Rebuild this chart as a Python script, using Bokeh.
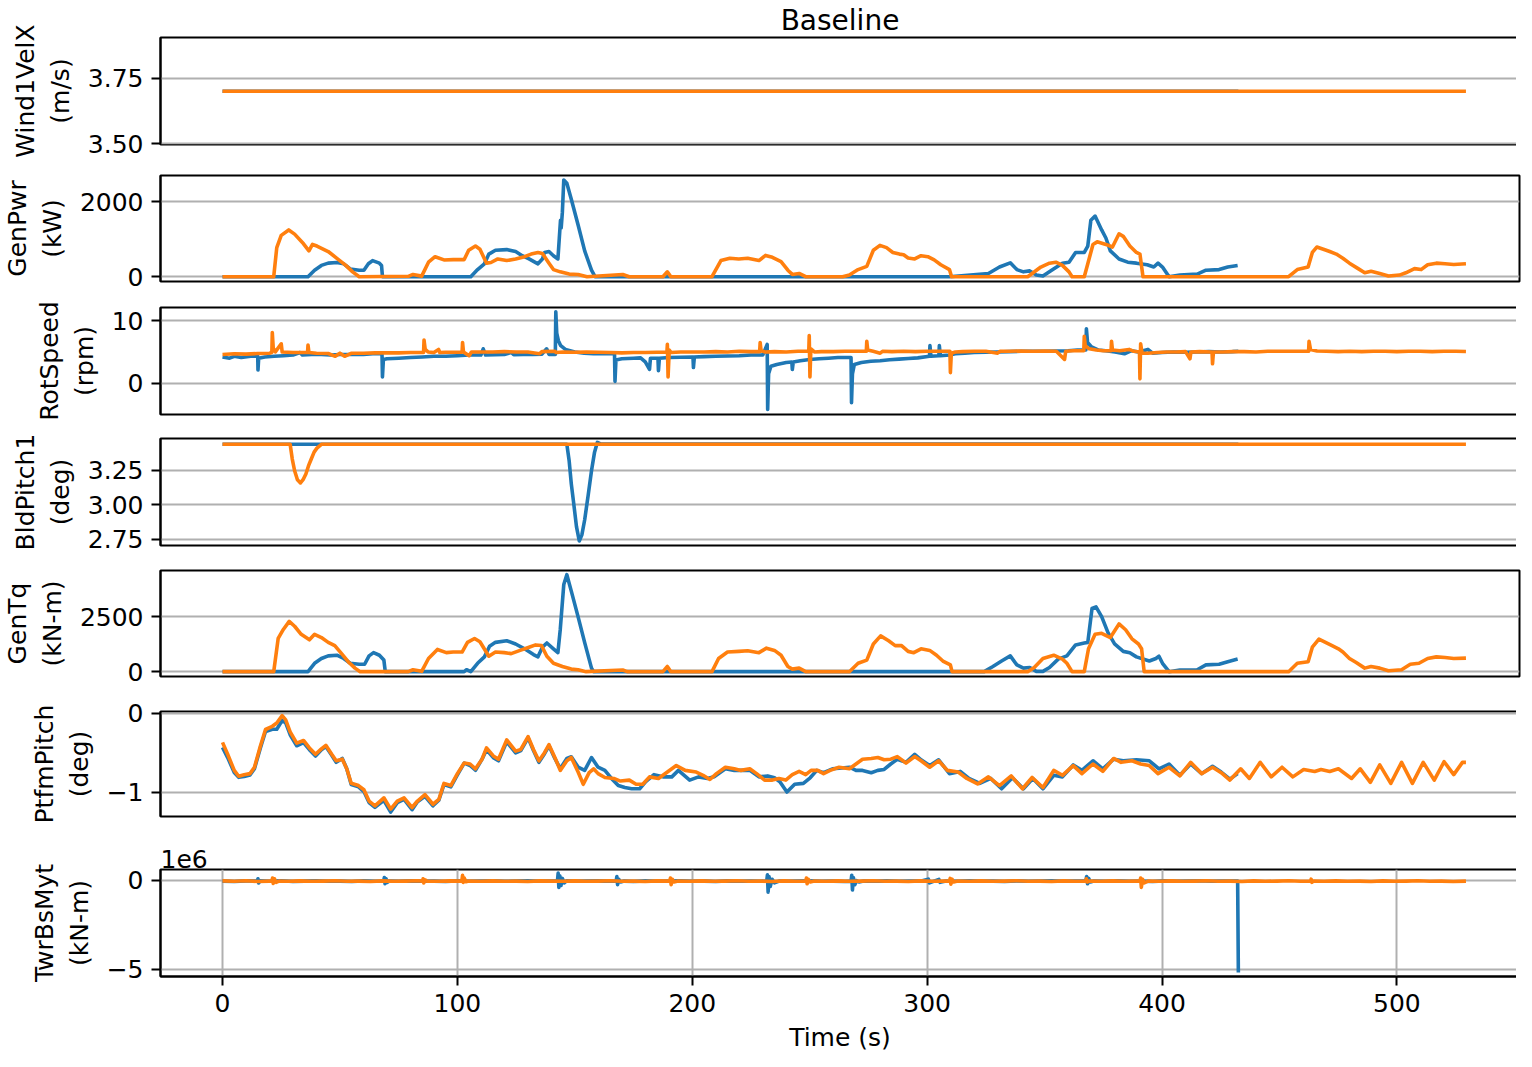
from bokeh.plotting import figure
from bokeh.layouts import column
from bokeh.models import Range1d, FixedTicker, CustomJSTickFormatter
from bokeh.embed import file_html
from bokeh.resources import INLINE

BLUE = "#1f77b4"
ORANGE = "#ff7f0e"
FONT = "DejaVu Sans"

TITLE = "Baseline"
X_LABEL = "Time (s)"
TIME_TICKS = [0, 100, 200, 300, 400, 500]

# ---- Wind1VelX (m/s) ----
WIND_BLUE = [(0, 3.7), (432.5, 3.7)]
WIND_ORANGE = [(0, 3.7), (529.4, 3.7)]

# ---- GenPwr (kW) ----
GENPWR_BLUE = [(0, 0), (36.4, 0), (39.2, 172), (42.1, 300), (45.0, 360), (48.7, 377), (51.6, 343), (54.4, 206),
               (58.2, 172), (60.2, 172), (62.1, 343), (63.9, 429), (66.8, 360), (67.7, 300), (68.1, 0), (105.7, 0),
               (108.6, 189), (111.5, 343), (113.4, 601), (116.2, 704), (121.0, 721), (124.8, 669), (127.6, 558),
               (130.5, 472), (134.3, 343), (136.2, 472), (137.1, 644), (139.0, 669), (140.9, 558), (142.8, 472),
               (143.4, 1030), (143.9, 1500), (144.2, 1300), (144.7, 1716), (145.3, 2574), (146.6, 2488), (148.5, 2059),
               (151.4, 1373), (154.2, 686), (157.1, 172), (158.6, 0), (309.5, 0), (326.1, 86), (330.8, 257),
               (335.4, 369), (338.2, 189), (341.0, 129), (343.7, 154), (346.5, 43), (349.3, 17), (353.0, 172),
               (357.6, 360), (360.4, 386), (363.2, 644), (366.9, 644), (368.4, 815), (369.7, 1502), (371.5, 1613),
               (374.3, 1244), (376.1, 1030), (378.0, 686), (381.7, 472), (385.4, 386), (389.1, 360), (393.7, 317),
               (396.5, 257), (398.3, 360), (400.2, 257), (403.0, 0), (407.6, 43), (415.0, 69), (418.7, 172),
               (424.3, 189), (428.0, 257), (432.2, 300)]
GENPWR_ORANGE = [(0, 0), (21.8, 0), (23.1, 772), (25.0, 1098), (28.2, 1244), (30.7, 1133), (34.5, 875), (36.8, 686),
                 (38.3, 858), (40.2, 815), (45.0, 669), (48.7, 489), (52.5, 300), (55.4, 129), (58.2, 0), (79.1, 10),
                 (81.1, 60), (84.8, 15), (87.7, 386), (90.5, 532), (94.3, 446), (98.2, 455), (102.9, 455),
                 (104.8, 704), (107.7, 815), (109.6, 729), (112.4, 360), (114.3, 377), (117.2, 472), (121.0, 429),
                 (124.8, 472), (128.6, 532), (131.4, 601), (134.3, 644), (136.2, 618), (139.0, 360), (140.9, 189),
                 (143.8, 129), (147.6, 69), (151.4, 60), (155.2, 0), (170.4, 60), (173.2, 0), (187.5, 0),
                 (189.4, 129), (190.9, 0), (208.4, 0), (212.2, 429), (216.0, 489), (219.8, 472), (223.6, 489),
                 (228.4, 429), (231.2, 566), (234.1, 515), (237.8, 403), (240.7, 172), (242.6, 60), (245.5, 86),
                 (248.3, 0), (264.0, 0), (266.9, 43), (270.6, 189), (274.3, 275), (277.1, 704), (279.9, 832),
                 (282.7, 772), (285.4, 644), (288.2, 601), (290.0, 583), (291.9, 497), (294.7, 472), (297.4, 558),
                 (300.3, 532), (303.0, 446), (305.8, 317), (309.5, 189), (310.4, 0), (342.8, 0), (344.7, 86),
                 (348.4, 257), (352.1, 360), (354.8, 386), (357.6, 300), (360.4, 129), (361.7, 0), (366.9, 0),
                 (368.4, 343), (370.6, 858), (372.4, 927), (376.1, 858), (378.9, 789), (381.7, 1141), (383.5, 1073),
                 (386.3, 815), (389.1, 644), (390.6, 601), (391.9, 0), (453.9, 0), (457.6, 189), (462.2, 257),
                 (464.0, 644), (465.9, 789), (468.7, 729), (471.4, 669), (474.2, 601), (477.0, 489), (479.8, 360),
                 (483.5, 214), (486.3, 103), (489.0, 146), (492.7, 86), (496.4, 17), (501.1, 43), (503.8, 103),
                 (507.5, 214), (510.3, 189), (513.1, 317), (516.8, 360), (520.5, 343), (524.2, 326), (529.4, 343)]

# ---- RotSpeed (rpm) ----
ROTSPEED_BLUE = [(0, 4.2), (3, 4.0), (5, 4.3), (8, 4.1), (12, 4.3), (15.0, 4.3), (15.1, 2.1), (15.4, 4.0), (18, 4.2),
                 (22, 4.3), (26, 4.4), (30, 4.5), (33, 4.9), (34, 4.5), (38, 4.6), (42, 4.6), (46, 4.5), (50, 4.6),
                 (55, 4.6), (60, 4.6), (64, 4.7), (67.9, 4.7), (68.1, 1.0), (68.5, 3.8), (70, 3.9), (75, 4.0),
                 (80, 4.1), (85, 4.2), (90, 4.3), (95, 4.3), (100, 4.4), (105, 4.5), (110, 4.5), (111, 5.5),
                 (112, 4.5), (116, 4.55), (120, 4.6), (123, 4.9), (124, 4.55), (128, 4.6), (132, 4.6), (136, 4.65),
                 (138, 5.5), (139, 4.6), (141.7, 4.6), (141.9, 11.4), (142.3, 8.0), (143, 6.8), (144, 6.0),
                 (146, 5.4), (150, 5.0), (154, 4.8), (158, 4.7), (162, 4.75), (166.9, 4.7), (167.1, 0.3),
                 (167.5, 3.7), (170, 3.9), (175, 4.0), (178, 4.05), (180, 3.4), (181.8, 2.2), (182.2, 4.0),
                 (185.4, 4.0), (185.6, 2.0), (186, 4.0), (190, 4.1), (195, 4.15), (200.3, 4.2), (200.5, 2.5),
                 (200.9, 4.2), (205, 4.25), (210, 4.3), (215, 4.35), (220, 4.4), (225, 4.5), (230, 4.5), (231.9, 6.2),
                 (232.1, -4.2), (232.5, 1.5), (233.5, 2.7), (236, 3.0), (240, 3.3), (242.4, 3.4), (242.6, 2.2),
                 (243, 3.4), (246, 3.6), (250, 3.8), (254, 3.9), (258, 4.0), (262, 4.1), (266, 4.1), (267.6, 4.1),
                 (267.8, -3.1), (268.2, 1.5), (269, 3.0), (272, 3.3), (276, 3.5), (280, 3.6), (284, 3.75),
                 (288, 3.85), (292, 3.95), (296, 4.05), (301, 4.3), (301.2, 6.0), (301.6, 4.3), (305, 4.4),
                 (305.2, 6.0), (305.6, 4.4), (309.5, 4.5), (312, 4.7), (316, 4.8), (320, 4.9), (325, 4.95),
                 (330, 5.0), (335, 5.05), (340, 5.1), (345, 5.1), (350, 5.1), (355, 5.15), (360, 5.2), (364, 5.3),
                 (367.6, 5.3), (367.8, 8.7), (368.3, 6.5), (370, 5.8), (373, 5.3), (376, 5.2), (380, 5.0),
                 (384, 4.7), (387, 5.2), (390, 5.0), (394, 5.4), (396, 4.8), (400, 4.9), (405, 5.0), (410, 4.95),
                 (415, 5.0), (420, 5.05), (425, 5.0), (430, 5.05), (432.5, 5.1)]
ROTSPEED_ORANGE = [(0, 4.6), (5, 4.7), (10, 4.65), (15, 4.75), (20, 4.8), (21.0, 4.9), (21.2, 8.1), (21.6, 5.6),
                   (22.5, 5.0), (25.0, 6.3), (25.4, 5.0), (30, 4.9), (36.2, 4.9), (36.4, 6.1), (36.8, 4.9),
                   (40, 4.8), (45, 4.75), (48, 4.3), (50, 4.8), (52, 4.3), (55, 4.8), (60, 4.8), (65, 4.85),
                   (70, 4.85), (75, 4.85), (80, 4.9), (85.6, 4.9), (85.8, 6.9), (86.3, 5.4), (87.5, 5.0), (90, 4.9),
                   (92, 5.4), (92.5, 4.9), (95, 4.95), (102, 4.95), (102.2, 6.5), (102.6, 5.0), (105, 4.4),
                   (106, 5.0), (110, 5.0), (115, 5.0), (120, 5.05), (125, 5.0), (130, 5.0), (135, 4.7), (136, 5.05),
                   (141.5, 5.1), (142, 4.9), (145, 5.0), (150, 4.95), (155, 5.0), (160, 4.95), (165, 4.9),
                   (170, 4.85), (175, 4.9), (180, 4.9), (185, 4.95), (189.2, 4.95), (189.4, 6.2), (189.7, 1.0),
                   (190.2, 5.3), (191, 4.9), (195, 5.0), (200, 5.0), (205, 5.0), (210, 5.05), (215, 5.0),
                   (220, 5.1), (225, 5.05), (228.7, 5.05), (228.9, 6.5), (229.3, 5.2), (231, 5.0), (235, 5.05),
                   (240, 5.0), (245, 5.1), (249.6, 5.1), (249.8, 7.6), (250.1, 1.0), (250.5, 5.5), (252, 5.0),
                   (255, 5.05), (260, 5.05), (265, 5.1), (270, 5.1), (274.1, 5.1), (274.3, 6.7), (274.7, 5.3),
                   (277, 5.1), (280, 4.8), (281, 5.1), (285, 5.05), (290, 5.1), (295, 5.05), (300, 5.1),
                   (305, 5.1), (309.7, 5.1), (309.9, 1.7), (310.3, 4.8), (312, 5.0), (315, 5.05), (320, 5.1),
                   (325, 5.1), (330, 4.8), (331, 5.1), (335, 5.1), (340, 5.15), (345, 5.1), (350, 5.15),
                   (355, 5.1), (358.5, 3.8), (359, 5.1), (362, 5.2), (366.7, 5.2), (366.9, 7.5), (367.3, 6.0),
                   (369, 5.5), (372, 5.3), (375, 5.2), (378.3, 5.2), (378.5, 6.7), (378.9, 5.3), (382, 5.2),
                   (386, 5.4), (388, 5.1), (390.4, 5.0), (390.6, 0.7), (390.9, 6.3), (391.5, 4.8), (394, 4.8),
                   (398, 4.9), (402, 5.0), (406, 5.0), (410, 5.05), (411.9, 3.9), (412.3, 5.0), (416, 5.05),
                   (421.3, 5.0), (421.5, 3.1), (421.9, 5.0), (426, 5.0), (430, 5.05), (435, 5.05), (440, 5.0),
                   (445, 5.1), (450, 5.1), (455, 5.1), (460, 5.1), (462.4, 5.1), (462.6, 6.7), (463.2, 5.4),
                   (466, 5.15), (470, 5.1), (475, 5.05), (480, 5.1), (485, 5.05), (490, 5.1), (495, 5.1),
                   (500, 5.05), (505, 5.1), (510, 5.1), (515, 5.05), (520, 5.1), (525, 5.1), (529.4, 5.08)]

# ---- BldPitch1 (deg) ----
BLDPITCH_BLUE = [(0, 3.437), (146.6, 3.437), (147.6, 3.315), (148.5, 3.15), (149.5, 3.012), (150.7, 2.84),
                 (151.9, 2.736), (153.0, 2.78), (154.2, 2.89), (155.7, 3.07), (157.1, 3.245), (158.4, 3.38),
                 (159.6, 3.451), (160.9, 3.44), (432.5, 3.437)]
BLDPITCH_ORANGE = [(0, 3.437), (28.8, 3.437), (29.7, 3.33), (30.7, 3.245), (31.9, 3.18), (33.2, 3.157),
                   (34.3, 3.18), (35.5, 3.222), (36.6, 3.28), (37.7, 3.327), (39.0, 3.38), (40.2, 3.409),
                   (42.1, 3.437), (529.4, 3.437)]

# ---- GenTq (kN-m) ----
GENTQ_BLUE = [(0, 0), (36.4, 0), (39.2, 380), (42.1, 599), (45.0, 716), (48.7, 746), (51.6, 599), (54.4, 380),
              (58.2, 336), (60.5, 336), (62.4, 716), (64.3, 863), (66.8, 746), (68.7, 526), (69.3, 0), (102.9, 0),
              (103.9, 88), (105.7, 0), (108.6, 380), (111.5, 672), (113.7, 1155), (116.2, 1330), (121.0, 1404),
              (124.8, 1257), (128.6, 1038), (132.4, 775), (134.3, 672), (136.2, 1111), (138.1, 1301), (140.9, 1038),
              (142.8, 863), (143.8, 1915), (145.3, 3955), (146.6, 4400), (148.5, 3655), (151.4, 2485),
              (154.2, 1316), (157.1, 161), (158.0, 0), (324.3, 0), (328.0, 234), (331.7, 482), (335.4, 716),
              (338.2, 307), (341.0, 161), (343.7, 190), (346.5, 15), (349.3, 15), (352.1, 190), (355.8, 570),
              (359.5, 716), (363.2, 1214), (366.9, 1301), (368.4, 1330), (370.2, 2865), (371.9, 2939),
              (374.3, 2500), (377.0, 1769), (379.8, 1257), (383.5, 921), (386.3, 863), (389.1, 672), (394.6, 482),
              (397.4, 599), (398.7, 702), (400.2, 380), (403.0, 0), (407.6, 73), (415.0, 88), (418.7, 307),
              (424.3, 336), (428.0, 453), (432.2, 570)]
GENTQ_ORANGE = [(0, 0), (21.8, 0), (23.7, 1506), (25.9, 1915), (28.4, 2281), (30.7, 2061), (33.5, 1696), (37.0, 1447),
                (39.2, 1696), (42.1, 1550), (45.0, 1330), (47.8, 1184), (50.7, 819), (53.5, 453), (56.4, 161),
                (58.6, 0), (79.1, 0), (81.1, 88), (84.8, 15), (87.7, 599), (91.5, 1009), (95.3, 863), (98.2, 892),
                (102.0, 892), (104.3, 1330), (107.3, 1506), (109.6, 1360), (113.4, 702), (116.2, 892), (120.0, 863),
                (122.9, 819), (126.7, 965), (130.5, 1111), (133.3, 1214), (135.8, 1184), (138.1, 702), (140.9, 380),
                (144.7, 234), (148.5, 117), (151.4, 88), (154.8, 0), (170.4, 73), (172.3, 0), (187.5, 0),
                (189.4, 234), (190.9, 0), (208.4, 0), (211.2, 599), (215.0, 892), (219.8, 921), (223.6, 950),
                (228.4, 863), (231.6, 1067), (235.0, 965), (237.8, 746), (240.7, 234), (242.6, 117), (245.5, 161),
                (248.3, 0), (266.9, 0), (270.6, 380), (274.3, 526), (277.1, 1257), (280.2, 1623), (283.6, 1404),
                (286.4, 1184), (289.1, 1184), (291.9, 921), (294.3, 863), (297.4, 1038), (301.1, 965), (304.0, 746),
                (306.7, 482), (309.9, 307), (310.6, 0), (342.8, 0), (345.6, 190), (349.3, 599), (353.9, 746),
                (357.6, 570), (359.5, 380), (361.7, 0), (366.9, 0), (368.7, 1038), (371.5, 1696), (374.3, 1740),
                (378.0, 1550), (381.7, 2164), (384.5, 1901), (387.2, 1491), (390.0, 1257), (391.3, 1038),
                (392.4, 0), (453.9, 0), (457.6, 380), (462.2, 453), (464.0, 1111), (466.8, 1477), (469.6, 1330),
                (472.4, 1184), (475.1, 1038), (477.0, 892), (479.8, 599), (482.5, 424), (486.3, 161), (489.0, 234),
                (492.7, 161), (496.4, 44), (502.0, 88), (505.7, 336), (509.4, 380), (513.1, 599), (516.8, 672),
                (520.5, 643), (524.2, 599), (529.4, 614)]

# ---- PtfmPitch (deg) ----
PTFMPITCH_BLUE = [(0, -0.43), (2.2, -0.56), (5.0, -0.75), (6.9, -0.81), (9.2, -0.80), (11.7, -0.78), (13.6, -0.70),
                  (16.1, -0.44), (18.3, -0.23), (21.2, -0.20), (23.1, -0.20), (25.4, -0.09), (26.9, -0.12),
                  (28.8, -0.27), (31.6, -0.41), (34.5, -0.37), (37.0, -0.46), (39.6, -0.54), (42.1, -0.46),
                  (44.0, -0.42), (46.5, -0.53), (48.4, -0.62), (51.0, -0.57), (52.9, -0.70), (54.8, -0.90),
                  (57.9, -0.93), (60.2, -0.99), (62.4, -1.13), (64.9, -1.19), (68.7, -1.10), (71.6, -1.25),
                  (74.4, -1.13), (77.3, -1.09), (80.7, -1.22), (83.0, -1.12), (86.2, -1.05), (89.6, -1.17),
                  (92.1, -1.10), (94.3, -0.90), (97.2, -0.93), (100.0, -0.78), (102.9, -0.63), (105.4, -0.66),
                  (107.7, -0.72), (110.5, -0.58), (112.4, -0.46), (115.3, -0.56), (117.5, -0.60), (121.0, -0.36),
                  (124.8, -0.50), (127.0, -0.47), (130.1, -0.31), (132.4, -0.47), (134.7, -0.62), (137.1, -0.51),
                  (139.0, -0.41), (141.5, -0.57), (143.8, -0.70), (146.6, -0.57), (148.5, -0.55), (151.4, -0.68),
                  (154.2, -0.722), (157.1, -0.559), (159.9, -0.682), (162.8, -0.722), (165.6, -0.824),
                  (168.5, -0.914), (171.3, -0.939), (174.2, -0.955), (177.6, -0.955), (180.2, -0.865),
                  (183.7, -0.776), (187.5, -0.804), (191.3, -0.804), (194.1, -0.722), (198.9, -0.845),
                  (202.7, -0.804), (206.5, -0.824), (209.3, -0.804), (214.1, -0.702), (217.9, -0.722),
                  (224.5, -0.722), (228.4, -0.804), (232.1, -0.792), (235.0, -0.816), (237.3, -0.865),
                  (240.3, -0.996), (243.6, -0.898), (247.3, -0.886), (250.2, -0.816), (253.0, -0.722),
                  (255.9, -0.751), (259.7, -0.702), (262.5, -0.694), (266.9, -0.682), (269.7, -0.722),
                  (272.5, -0.722), (276.2, -0.751), (279.0, -0.722), (281.7, -0.710), (284.5, -0.641),
                  (287.3, -0.580), (291.0, -0.620), (294.7, -0.518), (297.4, -0.588), (301.1, -0.661),
                  (304.9, -0.588), (309.5, -0.763), (314.1, -0.735), (317.8, -0.824), (322.4, -0.886),
                  (327.1, -0.824), (331.7, -0.955), (336.3, -0.816), (341.0, -0.955), (345.0, -0.824),
                  (349.3, -0.955), (353.9, -0.784), (357.6, -0.804), (362.2, -0.653), (365.9, -0.722),
                  (370.6, -0.600), (374.8, -0.702), (379.4, -0.580), (383.5, -0.600), (389.1, -0.588),
                  (394.6, -0.600), (398.7, -0.702), (403.0, -0.641), (407.6, -0.784), (412.2, -0.641),
                  (416.9, -0.763), (421.5, -0.669), (425.2, -0.743), (428.9, -0.833), (432.2, -0.763)]
PTFMPITCH_ORANGE = [(0, -0.367), (2.2, -0.518), (5.0, -0.722), (6.9, -0.796), (9.2, -0.776), (11.7, -0.763),
                    (13.6, -0.682), (16.1, -0.416), (18.3, -0.204), (21.2, -0.163), (23.1, -0.122), (25.4, -0.029),
                    (26.9, -0.082), (28.8, -0.233), (31.6, -0.376), (34.5, -0.343), (37.0, -0.437), (39.6, -0.518),
                    (42.1, -0.449), (44.0, -0.404), (46.5, -0.518), (48.4, -0.600), (51.0, -0.580), (52.9, -0.702),
                    (54.8, -0.886), (57.9, -0.914), (60.2, -0.967), (62.4, -1.110), (64.9, -1.171), (68.7, -1.069),
                    (71.6, -1.212), (74.4, -1.110), (77.3, -1.069), (80.7, -1.192), (83.0, -1.110), (86.2, -1.029),
                    (89.6, -1.151), (92.1, -1.090), (94.3, -0.886), (97.2, -0.914), (100.0, -0.763), (102.9, -0.629),
                    (105.4, -0.641), (107.7, -0.702), (110.5, -0.580), (112.4, -0.437), (115.3, -0.539),
                    (117.5, -0.580), (121.0, -0.335), (124.8, -0.478), (127.0, -0.457), (130.1, -0.294),
                    (132.4, -0.457), (134.7, -0.600), (137.1, -0.498), (139.0, -0.396), (141.5, -0.559),
                    (143.8, -0.722), (146.6, -0.600), (148.5, -0.559), (151.4, -0.743), (153.6, -0.898),
                    (156.1, -0.751), (158.0, -0.702), (159.9, -0.763), (162.8, -0.812), (166.6, -0.824),
                    (169.4, -0.857), (173.2, -0.845), (176.1, -0.898), (178.9, -0.898), (181.8, -0.804),
                    (185.6, -0.824), (189.4, -0.743), (193.2, -0.661), (197.0, -0.722), (201.7, -0.743),
                    (204.6, -0.784), (207.5, -0.837), (210.3, -0.763), (214.1, -0.682), (217.9, -0.702),
                    (220.7, -0.722), (224.5, -0.702), (227.4, -0.763), (230.8, -0.845), (234.1, -0.845),
                    (236.9, -0.824), (239.8, -0.845), (242.6, -0.776), (245.5, -0.735), (248.3, -0.776),
                    (250.6, -0.722), (253.4, -0.722), (255.9, -0.763), (258.7, -0.722), (262.5, -0.682),
                    (266.9, -0.702), (269.7, -0.641), (272.5, -0.580), (276.2, -0.571), (279.0, -0.559),
                    (281.7, -0.588), (284.5, -0.580), (287.3, -0.547), (291.0, -0.629), (294.7, -0.547),
                    (297.4, -0.600), (301.1, -0.682), (304.9, -0.600), (308.6, -0.722), (313.2, -0.743),
                    (316.9, -0.824), (321.5, -0.894), (326.1, -0.804), (330.8, -0.914), (335.8, -0.792),
                    (340.6, -0.955), (344.7, -0.812), (349.3, -0.939), (353.9, -0.722), (357.6, -0.784),
                    (362.2, -0.661), (365.9, -0.763), (370.6, -0.641), (374.8, -0.735), (379.4, -0.571),
                    (382.6, -0.620), (387.2, -0.600), (390.9, -0.641), (394.6, -0.661), (398.3, -0.763),
                    (403.0, -0.682), (407.6, -0.792), (412.2, -0.620), (416.9, -0.763), (421.5, -0.682),
                    (425.2, -0.751), (428.9, -0.845), (433.5, -0.702), (437.2, -0.824), (441.8, -0.620),
                    (446.5, -0.804), (451.1, -0.682), (455.7, -0.804), (460.3, -0.710), (465.0, -0.735),
                    (467.7, -0.710), (471.4, -0.735), (475.1, -0.702), (480.7, -0.824), (484.4, -0.702),
                    (488.7, -0.873), (492.7, -0.653), (497.4, -0.886), (502.0, -0.620), (506.6, -0.886),
                    (511.2, -0.620), (515.9, -0.845), (520.1, -0.612), (524.2, -0.776), (527.9, -0.620),
                    (529.4, -0.620)]

# ---- TwrBsMyt (kN-m, in units of 1e6) ----
TWRBSMYT_BLUE_E6 = [(0, -0.05), (5, -0.07), (10, -0.04), (14.8, -0.05), (15.1, 0.08), (15.4, -0.15), (16, -0.04),
                    (20, -0.06), (25, -0.03), (30, -0.07), (35, -0.05), (40, -0.04), (45, -0.06), (50, -0.05),
                    (55, -0.07), (60, -0.04), (65, -0.06), (68.6, -0.05), (68.9, 0.15), (69.2, -0.2), (69.6, 0.08),
                    (70.2, -0.12), (71, -0.05), (75, -0.06), (80, -0.04), (85, -0.06), (90, -0.05), (95, -0.07),
                    (100, -0.04), (105, -0.06), (110, -0.05), (115, -0.03), (120, -0.06), (125, -0.05), (130, -0.04),
                    (135, -0.06), (140, -0.05), (142.6, -0.05), (142.9, 0.4), (143.2, -0.4), (143.6, 0.25),
                    (144.1, -0.3), (144.7, 0.1), (145.5, -0.15), (146.5, -0.04), (150, -0.06), (155, -0.05),
                    (160, -0.04), (165, -0.06), (167.6, -0.05), (167.9, 0.2), (168.2, -0.25), (168.7, 0.05),
                    (169.5, -0.1), (171, -0.05), (175, -0.07), (180, -0.04), (185, -0.06), (190, -0.05),
                    (195, -0.03), (200, -0.06), (205, -0.05), (210, -0.07), (215, -0.04), (220, -0.06),
                    (225, -0.05), (229, -0.06), (231.7, -0.05), (232.0, 0.3), (232.3, -0.67), (232.7, 0.2),
                    (233.2, -0.35), (234, 0.05), (235, -0.15), (237, -0.05), (240, -0.06), (245, -0.05),
                    (250, -0.04), (255, -0.06), (260, -0.05), (265, -0.07), (267.6, -0.05), (267.9, 0.28),
                    (268.2, -0.55), (268.6, 0.15), (269.2, -0.25), (270, -0.03), (271, -0.1), (273, -0.05),
                    (278, -0.06), (283, -0.04), (288, -0.06), (293, -0.05), (298, -0.03), (300.5, 0.06),
                    (301, -0.15), (303, -0.05), (305, 0.05), (305.5, -0.12), (308, -0.05), (313, -0.06),
                    (318, -0.04), (323, -0.06), (328, -0.05), (333, -0.07), (338, -0.04), (343, -0.06),
                    (348, -0.05), (353, -0.03), (358, -0.06), (363, -0.05), (367.6, -0.04), (367.9, 0.2),
                    (368.3, -0.2), (368.8, 0.1), (369.5, -0.1), (371, -0.05), (376, -0.06), (381, -0.04),
                    (386, -0.06), (391, -0.05), (396, -0.07), (401, -0.04), (406, -0.06), (411, -0.05),
                    (416, -0.03), (421, -0.06), (426, -0.05), (430, -0.05), (432.2, -0.05), (432.5, -5.18)]
TWRBSMYT_ORANGE_E6 = [(0, -0.04), (5, -0.06), (10, -0.03), (15, -0.07), (20, -0.05), (21.0, -0.05), (21.3, 0.12),
                      (21.6, -0.18), (22.1, 0.08), (22.8, -0.12), (24, -0.05), (28, -0.06), (33, -0.04), (38, -0.06),
                      (43, -0.05), (48, -0.03), (53, -0.06), (58, -0.05), (63, -0.07), (68, -0.04), (73, -0.06),
                      (78, -0.05), (83, -0.03), (85.2, -0.05), (85.4, 0.08), (85.7, -0.15), (86.2, 0.02),
                      (87, -0.05), (92, -0.06), (97, -0.04), (101.9, -0.05), (102.2, 0.27), (102.5, -0.12),
                      (102.9, 0.12), (103.6, -0.08), (105, -0.05), (110, -0.06), (115, -0.04), (120, -0.06),
                      (125, -0.05), (130, -0.07), (135, -0.04), (140, -0.05), (145, -0.06), (150, -0.04),
                      (155, -0.06), (160, -0.05), (165, -0.03), (170, -0.06), (175, -0.05), (180, -0.07),
                      (185, -0.04), (190.4, -0.05), (190.7, 0.12), (191.0, -0.25), (191.5, 0.05), (192.2, -0.1),
                      (194, -0.05), (199, -0.06), (204, -0.04), (209, -0.06), (214, -0.05), (219, -0.03),
                      (224, -0.06), (229, -0.05), (234, -0.07), (239, -0.04), (244, -0.06), (248.3, -0.05),
                      (248.6, 0.12), (248.9, -0.2), (249.4, 0.05), (250.2, -0.1), (252, -0.05), (257, -0.06),
                      (262, -0.04), (267, -0.06), (272, -0.05), (277, -0.03), (282, -0.06), (287, -0.05),
                      (292, -0.07), (297, -0.04), (302, -0.06), (307, -0.05), (309.5, -0.05), (309.8, 0.1),
                      (310.1, -0.22), (310.6, 0.05), (311.3, -0.1), (313, -0.05), (318, -0.06), (323, -0.04),
                      (328, -0.06), (333, -0.05), (338, -0.03), (343, -0.06), (348, -0.05), (353, -0.07),
                      (358, -0.04), (363, -0.06), (367.5, -0.05), (367.8, 0.08), (368.1, -0.1), (369, -0.05),
                      (374, -0.06), (379, -0.04), (384, -0.06), (389, -0.05), (390.6, -0.05), (390.9, 0.12),
                      (391.2, -0.4), (391.7, 0.05), (392.4, -0.15), (394, -0.05), (399, -0.06), (404, -0.04),
                      (409, -0.06), (414, -0.05), (419, -0.03), (424, -0.06), (429, -0.05), (434, -0.07),
                      (439, -0.04), (444, -0.06), (449, -0.05), (454, -0.03), (459, -0.06), (463.3, -0.05),
                      (463.5, 0.06), (463.8, -0.12), (464.5, -0.05), (469, -0.06), (474, -0.04), (479, -0.06),
                      (484, -0.05), (489, -0.07), (494, -0.04), (499, -0.06), (504, -0.05), (509, -0.03),
                      (514, -0.06), (519, -0.05), (524, -0.07), (529.4, -0.05)]

PANELS = [
    dict(label="Wind1VelX\n(m/s)", blue=WIND_BLUE, orange=WIND_ORANGE, yr=(3.497, 3.905),
         ticks=[3.5, 3.75], dec=2, bt=34, fh=107, bb=16),
    dict(label="GenPwr\n(kW)", blue=GENPWR_BLUE, orange=GENPWR_ORANGE, yr=(-128, 2692),
         ticks=[0, 2000], dec=0, bt=15, fh=106, bb=13),
    dict(label="RotSpeed\n(rpm)", blue=ROTSPEED_BLUE, orange=ROTSPEED_ORANGE, yr=(-5.0, 12.1),
         ticks=[0, 10], dec=0, bt=13, fh=107, bb=12),
    dict(label="BldPitch1\n(deg)", blue=BLDPITCH_BLUE, orange=BLDPITCH_ORANGE, yr=(2.703, 3.479),
         ticks=[2.75, 3.0, 3.25], dec=2, bt=12, fh=107, bb=12),
    dict(label="GenTq\n(kN-m)", blue=GENTQ_BLUE, orange=GENTQ_ORANGE, yr=(-219, 4590),
         ticks=[0, 2500], dec=0, bt=13, fh=106, bb=17),
    dict(label="PtfmPitch\n(deg)", blue=PTFMPITCH_BLUE, orange=PTFMPITCH_ORANGE, yr=(-1.306, 0.024),
         ticks=[-1, 0], dec=0, bt=18, fh=105, bb=20),
    dict(label="TwrBsMyt\n(kN-m)", blue=TWRBSMYT_BLUE_E6, orange=TWRBSMYT_ORANGE_E6, yr=(-5.4, 0.6),
         ticks=[-5, 0], dec=0, bt=33, fh=107, bb=78),
]

FMT_CODE = """
const s = Math.abs(tick).toFixed(dec);
return (tick < -1e-9 ? "\\u2212" : "") + s;
"""

x_range = Range1d(-26.4, 552.2)
figs = []
n = len(PANELS)
for i, pnl in enumerate(PANELS):
    last = (i == n - 1)
    p = figure(x_range=x_range, y_range=Range1d(*pnl["yr"]),
               frame_width=1359, frame_height=pnl["fh"],
               min_border_left=153, min_border_right=4,
               min_border_top=pnl["bt"], min_border_bottom=pnl["bb"],
               x_axis_location="below" if last else None,
               output_backend="svg", toolbar_location=None, tools="")
    p.background_fill_color = "white"
    p.border_fill_color = "white"
    p.outline_line_color = "black"
    p.outline_line_width = 2
    p.outline_line_alpha = 1.0

    yt = FixedTicker(ticks=pnl["ticks"], minor_ticks=[])
    ax = p.yaxis[0]
    ax.ticker = yt
    ax.formatter = CustomJSTickFormatter(args=dict(dec=pnl["dec"]), code=FMT_CODE)
    ax.axis_label = pnl["label"]
    ax.axis_label_text_font = FONT
    ax.axis_label_text_font_size = "25px"
    ax.axis_label_text_font_style = "normal"
    ax.axis_label_text_color = "black"
    ax.axis_label_standoff = 10
    ax.major_label_text_font = FONT
    ax.major_label_text_font_size = "25px"
    ax.major_label_text_color = "black"
    ax.major_label_standoff = 8
    ax.major_tick_out = 9
    ax.major_tick_in = 0
    ax.major_tick_line_width = 2
    ax.major_tick_line_color = "black"
    ax.minor_tick_line_color = None
    ax.axis_line_width = 2
    ax.axis_line_color = "black"

    p.ygrid[0].ticker = yt
    p.ygrid.grid_line_color = "#b0b0b0"
    p.ygrid.grid_line_width = 2

    if last:
        xt = FixedTicker(ticks=TIME_TICKS, minor_ticks=[])
        xa = p.xaxis[0]
        xa.ticker = xt
        xa.formatter = CustomJSTickFormatter(args=dict(dec=0), code=FMT_CODE)
        xa.axis_label = X_LABEL
        xa.axis_label_text_font = FONT
        xa.axis_label_text_font_size = "25px"
        xa.axis_label_text_font_style = "normal"
        xa.axis_label_text_color = "black"
        xa.axis_label_standoff = 8
        xa.major_label_text_font = FONT
        xa.major_label_text_font_size = "25px"
        xa.major_label_text_color = "black"
        xa.major_label_standoff = 8
        xa.major_tick_out = 9
        xa.major_tick_in = 0
        xa.major_tick_line_width = 2
        xa.minor_tick_line_color = None
        xa.axis_line_width = 2
        p.xgrid[0].ticker = xt
        p.xgrid.grid_line_color = "#b0b0b0"
        p.xgrid.grid_line_width = 2
        p.title.text = "1e6"
        p.title.align = "left"
        p.title.text_font = FONT
        p.title.text_font_size = "25px"
        p.title.text_font_style = "normal"
        p.title.text_color = "black"
        p.title.standoff = 4
    else:
        p.xgrid.visible = False

    if i == 0:
        p.title.text = TITLE
        p.title.align = "center"
        p.title.text_font = FONT
        p.title.text_font_size = "28px"
        p.title.text_font_style = "normal"
        p.title.text_color = "black"
        p.title.standoff = 2

    bt_, bv_ = zip(*pnl["blue"])
    ot_, ov_ = zip(*pnl["orange"])
    p.line(list(bt_), list(bv_), line_color=BLUE, line_width=3.6, line_join="round")
    p.line(list(ot_), list(ov_), line_color=ORANGE, line_width=3.6, line_join="round")
    figs.append(p)

layout = column(*figs, spacing=0)
open("out.html", "w").write(file_html(layout, INLINE))
